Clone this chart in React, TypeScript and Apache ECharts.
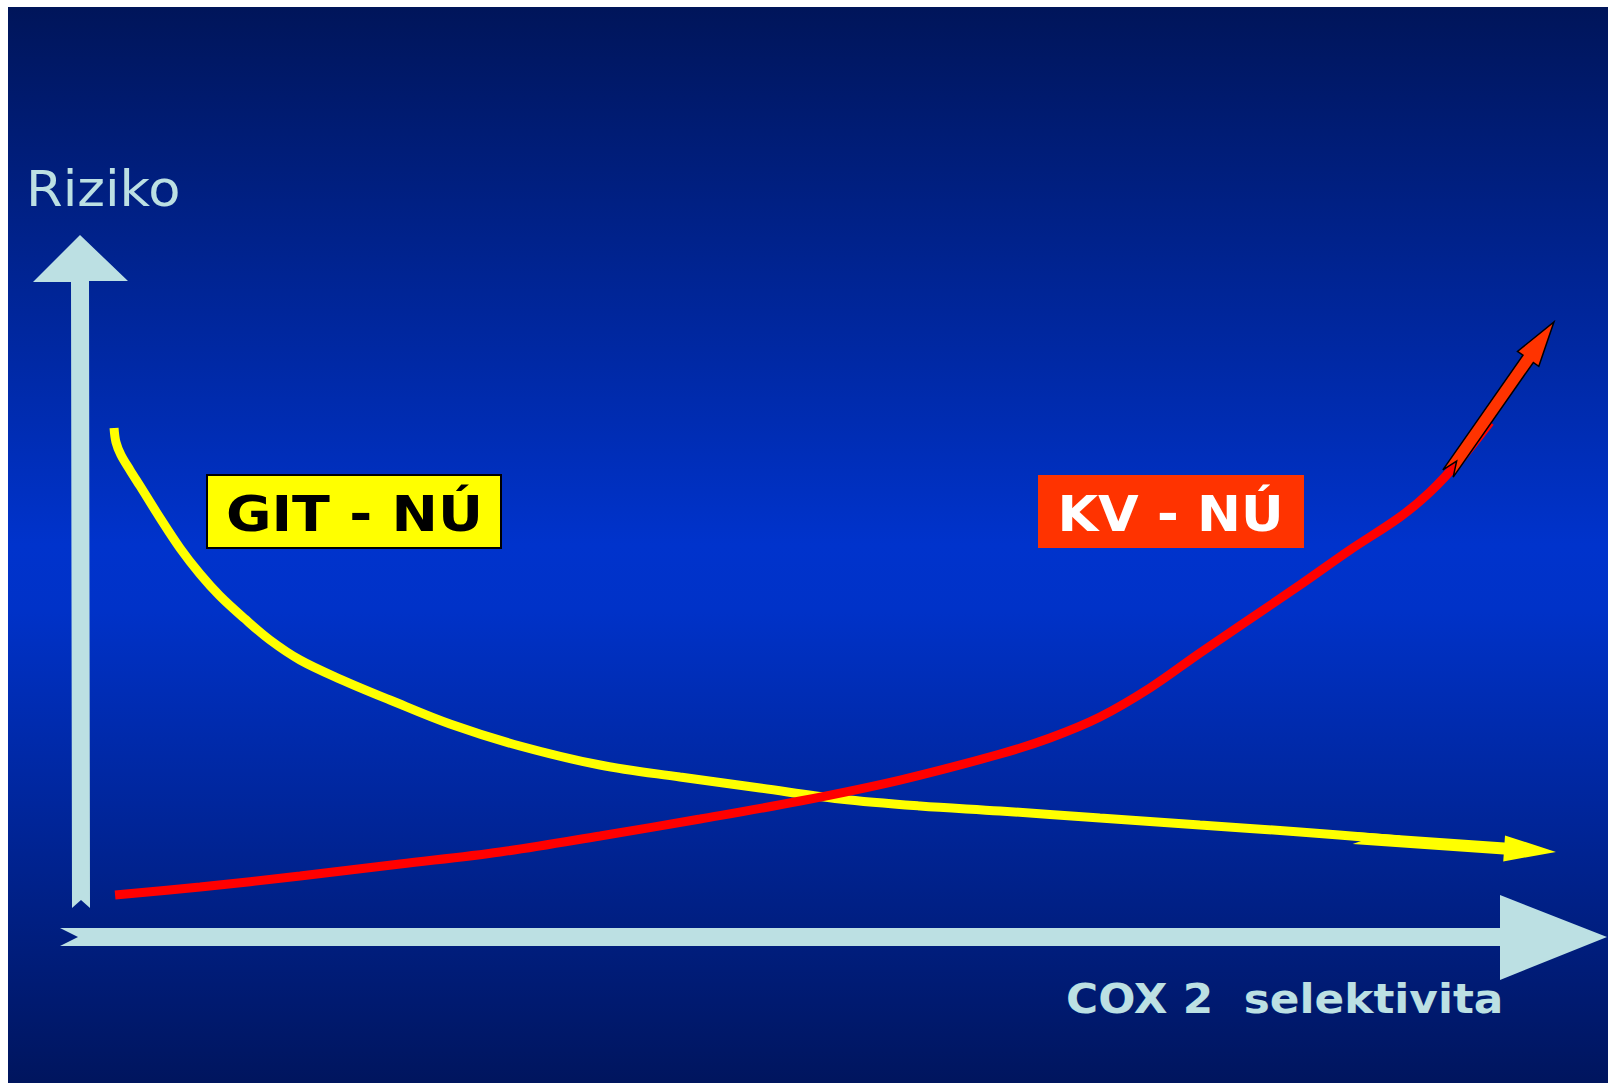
import React, { useEffect, useRef } from "react";
import * as echarts from "echarts";

// Abstract scale: x = COX 2 selectivity (0..100), y = risk (0..100)
const gitCurve: [number, number][] = [
  [2.24, 72.51], [2.37, 70.51], [2.71, 68.66], [3.32, 66.52], [4.0, 64.25],
  [5.36, 59.69], [6.71, 55.41], [8.07, 51.71], [9.42, 48.58], [11.12, 45.3],
  [12.81, 42.31], [14.85, 39.46], [17.56, 36.75], [20.95, 33.76], [25.02, 30.34],
  [29.76, 27.21], [35.19, 24.5], [40.61, 22.79], [46.03, 21.23], [51.46, 19.66],
  [56.88, 18.66], [62.31, 17.95], [69.08, 16.95], [75.86, 15.95], [82.64, 14.96],
  [89.42, 13.82],
];
const kvCurve: [number, number][] = [
  [2.31, 5.98], [8.07, 7.12], [14.85, 8.69], [21.63, 10.4], [28.41, 12.11],
  [35.19, 14.39], [41.97, 16.81], [48.75, 19.37], [55.53, 22.36], [62.31, 26.07],
  [65.69, 28.35], [69.08, 31.34], [72.47, 35.47], [75.86, 40.46], [79.25, 45.3],
  [82.64, 50.14], [86.03, 55.13], [89.42, 59.83], [91.46, 63.39], [93.49, 67.95],
  [95.53, 73.36],
];
const gitArrow: [number, number][] = [[86.24, 14.1], [100.0, 12.11]];
const kvArrow: [number, number][] = [[92.68, 66.03], [99.86, 87.61]];

const labelGit = "GIT - NÚ";
const labelKv = "KV - NÚ";
const yTitle = "Riziko";
const xTitle = "COX 2  selektivita";

const AXIS_COLOR = "#bce0e3";
const FONT = "'DejaVu Sans', Verdana, sans-serif";

function blockArrow(
  T: number[], P: number[], s: number, h: number, w: number, d: number
): number[][] {
  const dx = P[0] - T[0], dy = P[1] - T[1];
  const L = Math.hypot(dx, dy);
  const ux = dx / L, uy = dy / L;
  const nx = -uy, ny = ux;
  const B = [P[0] - ux * h, P[1] - uy * h];
  return [
    [T[0] + nx * s, T[1] + ny * s],
    [B[0] + nx * s, B[1] + ny * s],
    [B[0] + nx * w, B[1] + ny * w],
    [P[0], P[1]],
    [B[0] - nx * w, B[1] - ny * w],
    [B[0] - nx * s, B[1] - ny * s],
    [T[0] - nx * s, T[1] - ny * s],
    [T[0] + ux * d, T[1] + uy * d],
  ];
}

export default function App() {
  const ref = useRef<HTMLDivElement>(null);
  useEffect(() => {
    document.documentElement.style.overflow = "hidden";
    const chart = echarts.init(ref.current!, undefined, { renderer: "svg" });
    chart.setOption({
      animation: false,
      backgroundColor: {
        type: "linear", x: 0, y: 0, x2: 0, y2: 1,
        colorStops: [
          { offset: 0, color: "#00155a" },
          { offset: 0.5, color: "#0033cc" },
          { offset: 0.56, color: "#0032c8" },
          { offset: 1, color: "#00155e" },
        ],
      },
      grid: { left: 73, top: 228, width: 1475, height: 702, containLabel: false },
      xAxis: { type: "value", min: 0, max: 100, show: false },
      yAxis: { type: "value", min: 0, max: 100, show: false },
      series: [
        {
          type: "line", data: gitCurve, showSymbol: false, smooth: 0.35,
          lineStyle: { color: "#ffff00", width: 9, cap: "butt" }, z: 3,
        },
        {
          type: "line", data: kvCurve, showSymbol: false, smooth: 0.35,
          lineStyle: { color: "#ff0000", width: 9, cap: "butt" }, z: 4,
        },
      ],
    });
    const px = (p: [number, number]) =>
      chart.convertToPixel({ gridIndex: 0 }, p) as number[];
    const yA = blockArrow(px(gitArrow[0]), px(gitArrow[1]), 6, 52, 13, 14);
    const rA = blockArrow(px(kvArrow[0]), px(kvArrow[1]), 6.3, 45, 13, 15);

    chart.setOption({
      graphic: [
        {
          type: "polygon", z: 1,
          shape: { points: [[64, 901], [73, 893], [82, 901], [81, 274], [120, 274], [72, 228], [25, 275], [63, 275]] },
          style: { fill: AXIS_COLOR },
        },
        {
          type: "polygon", z: 1,
          shape: { points: [[52, 921], [1492, 921], [1492, 888], [1599, 930], [1492, 973], [1492, 939], [52, 939], [70, 930]] },
          style: { fill: AXIS_COLOR },
        },
        {
          type: "text", x: 18, y: 181, z: 10, scaleX: 1.055,
          style: { text: yTitle, fill: AXIS_COLOR, font: `normal 50px ${FONT}`, align: "left", verticalAlign: "middle" },
        },
        {
          type: "text", x: 1058, y: 992.5, z: 10, scaleX: 1.095,
          style: { text: xTitle, fill: AXIS_COLOR, font: `bold 40px ${FONT}`, align: "left", verticalAlign: "middle" },
        },
        {
          type: "rect", z: 10,
          shape: { x: 199, y: 468, width: 294, height: 73 },
          style: { fill: "#ffff00", stroke: "#000000", lineWidth: 2 },
        },
        {
          type: "text", x: 346.5, y: 506.5, z: 11, scaleX: 1.11,
          style: { text: labelGit, fill: "#000000", font: `bold 50px ${FONT}`, align: "center", verticalAlign: "middle" },
        },
        {
          type: "rect", z: 10,
          shape: { x: 1030, y: 468, width: 266, height: 73 },
          style: { fill: "#ff3300" },
        },
        {
          type: "text", x: 1162.5, y: 506, z: 11, scaleX: 1.05,
          style: { text: labelKv, fill: "#ffffff", font: `bold 50px ${FONT}`, align: "center", verticalAlign: "middle" },
        },
        {
          type: "polygon", z: 12,
          shape: { points: yA },
          style: { fill: "#ffff00" },
        },
        {
          type: "polygon", z: 12,
          shape: { points: rA },
          style: { fill: "#ff3300", stroke: "#000000", lineWidth: 1.5 },
        },
      ],
    });
    return () => chart.dispose();
  }, []);
  return (
    <div
      ref={ref}
      style={{ position: "absolute", left: 8, top: 7, width: 1600, height: 1076 }}
    />
  );
}
